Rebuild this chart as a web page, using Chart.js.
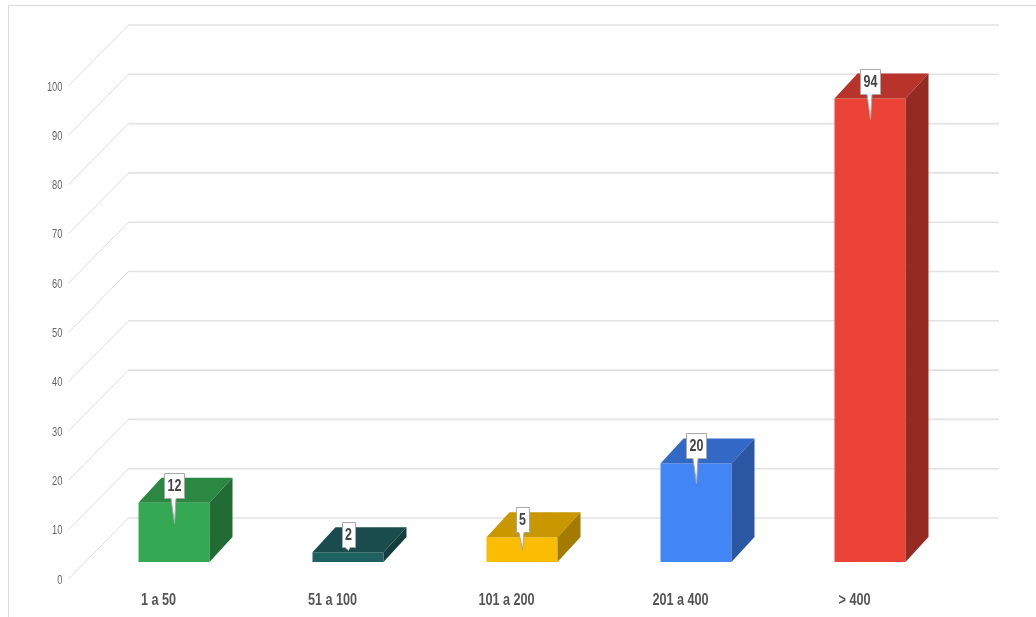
<!DOCTYPE html>
<html>
<head>
<meta charset="utf-8">
<script src="https://cdn.jsdelivr.net/npm/chart.js@4/dist/chart.umd.min.js"></script>
<style>
  html, body { margin: 0; padding: 0; background: #ffffff; }
  #wrap { width: 1036px; height: 617px; }
</style>
</head>
<body>
<div id="wrap"><canvas id="c" width="1036" height="617"></canvas></div>
<script>
// Categories and values
const categories = ['1 a 50', '51 a 100', '101 a 200', '201 a 400', '> 400'];
const values = [12, 2, 5, 20, 94];
const yTicks = [0, 10, 20, 30, 40, 50, 60, 70, 80, 90, 100];

// Face colours per bar: front, top, side
const frontColors = ['#34a853', '#1f6061', '#fbbc04', '#4285f4', '#ea4335'];
const topColors   = ['#2a8843', '#1a4c4e', '#c99700', '#3369c6', '#b8342a'];
const sideColors  = ['#216b35', '#143d3e', '#a37b00', '#2a56a2', '#942a22'];

const FONT = "'Liberation Sans', Arial, sans-serif";

// Oblique depth offsets
const BAR_DX = 23, BAR_DY = 25;          // bar front -> bar back
const FRONT_DX = -16.5, FRONT_DY = 17;    // bar plane -> front (axis) plane
const BACK_DX = 43.5, BACK_DY = -44;      // bar plane -> back wall
const WALL_RIGHT = 999;

// draws text squeezed horizontally for a condensed look
function narrowText(ctx, txt, x, y, sx) {
  ctx.save();
  ctx.translate(x, y);
  ctx.scale(sx, 1);
  ctx.fillText(txt, 0, 0);
  ctx.restore();
}

const frame = {
  id: 'frame',
  beforeDraw(chart) {
    const ctx = chart.ctx;
    ctx.save();
    ctx.fillStyle = '#ffffff';
    ctx.fillRect(0, 0, chart.width, chart.height);
    ctx.strokeStyle = '#dadada';
    ctx.lineWidth = 1;
    ctx.beginPath();
    ctx.moveTo(8.5, 617);
    ctx.lineTo(8.5, 5.5);
    ctx.lineTo(1036, 5.5);
    ctx.stroke();
    ctx.restore();
  }
};

const grid3d = {
  id: 'grid3d',
  beforeDatasetsDraw(chart) {
    const ctx = chart.ctx;
    const y = chart.scales.y;
    const area = chart.chartArea;
    const x0 = area.left + FRONT_DX - 2;   // front-plane left edge
    ctx.save();
    yTicks.forEach(v => {
      const py = y.getPixelForValue(v);
      const fy = py + FRONT_DY, by = py + BACK_DY;
      const bx = x0 + (BACK_DX - FRONT_DX);
      // diagonal on the side wall
      ctx.strokeStyle = '#dedede';
      ctx.lineWidth = 1;
      ctx.beginPath();
      ctx.moveTo(x0, fy);
      ctx.lineTo(bx, by);
      ctx.stroke();
      // back wall line
      ctx.strokeStyle = '#e2e2e2';
      ctx.lineWidth = 1.6;
      ctx.beginPath();
      ctx.moveTo(bx, by);
      ctx.lineTo(WALL_RIGHT, by);
      ctx.stroke();
      // tick label
      ctx.fillStyle = '#666666';
      ctx.font = '13px ' + FONT;
      ctx.textAlign = 'right';
      ctx.textBaseline = 'middle';
      narrowText(ctx, String(v), x0 - 6, fy + 1, 0.72);
    });
    // category labels on the front plane
    const xs = chart.scales.x;
    ctx.fillStyle = '#555555';
    ctx.font = 'bold 16px ' + FONT;
    ctx.textAlign = 'center';
    ctx.textBaseline = 'middle';
    categories.forEach((c, i) => {
      narrowText(ctx, c, xs.getPixelForValue(i) + FRONT_DX + 1, y.getPixelForValue(0) + 39, 0.79);
    });
    ctx.restore();
  }
};

const bars3d = {
  id: 'bars3d',
  afterDatasetsDraw(chart) {
    const ctx = chart.ctx;
    const meta = chart.getDatasetMeta(0);
    ctx.save();
    meta.data.forEach((bar, i) => {
      const p = bar.getProps(['x', 'y', 'base', 'width'], true);
      const l = p.x - p.width / 2, r = p.x + p.width / 2;
      const t = p.y, b = p.base;
      // top face
      ctx.fillStyle = topColors[i];
      ctx.beginPath();
      ctx.moveTo(l, t);
      ctx.lineTo(r, t);
      ctx.lineTo(r + BAR_DX, t - BAR_DY);
      ctx.lineTo(l + BAR_DX, t - BAR_DY);
      ctx.closePath();
      ctx.fill();
      // side face
      ctx.fillStyle = sideColors[i];
      ctx.beginPath();
      ctx.moveTo(r, t);
      ctx.lineTo(r + BAR_DX, t - BAR_DY);
      ctx.lineTo(r + BAR_DX, b - BAR_DY);
      ctx.lineTo(r, b);
      ctx.closePath();
      ctx.fill();
    });
    // value callouts
    ctx.font = 'bold 16px ' + FONT;
    ctx.textAlign = 'center';
    ctx.textBaseline = 'middle';
    const sx = 0.78;
    meta.data.forEach((bar, i) => {
      const p = bar.getProps(['x', 'y', 'base'], true);
      const txt = String(values[i]);
      const w = Math.round(ctx.measureText(txt).width * sx) + 6;
      const h = 25;
      const top = Math.round(p.y - 30) + 0.5;
      const left = Math.round(p.x - w / 2) + 0.5;
      const bottom = top + h;
      const tail = Math.max(3, Math.min(25, (p.base - p.y) - 7));
      ctx.fillStyle = '#ffffff';
      ctx.strokeStyle = '#a8a8a8';
      ctx.lineWidth = 1;
      ctx.beginPath();
      ctx.moveTo(left, top);
      ctx.lineTo(left + w, top);
      ctx.lineTo(left + w, bottom);
      ctx.lineTo(p.x + 2, bottom);
      ctx.lineTo(p.x + 0.5, bottom + tail);
      ctx.lineTo(p.x - 3, bottom);
      ctx.lineTo(left, bottom);
      ctx.closePath();
      ctx.fill();
      ctx.stroke();
      ctx.fillStyle = '#444444';
      narrowText(ctx, txt, p.x + 0.5, top + h / 2 + 1, sx);
    });
    ctx.restore();
  }
};

new Chart(document.getElementById('c'), {
  type: 'bar',
  data: {
    labels: categories,
    datasets: [{
      data: values,
      backgroundColor: frontColors,
      borderWidth: 0,
      categoryPercentage: 1,
      barPercentage: 0.408
    }]
  },
  options: {
    responsive: false,
    animation: false,
    devicePixelRatio: 1,
    layout: { padding: { left: 87, right: 79, top: 69, bottom: 55 } },
    plugins: { legend: { display: false }, tooltip: { enabled: false } },
    scales: {
      x: { display: false },
      y: { display: false, min: 0, max: 100 }
    }
  },
  plugins: [frame, grid3d, bars3d]
});
</script>
</body>
</html>
